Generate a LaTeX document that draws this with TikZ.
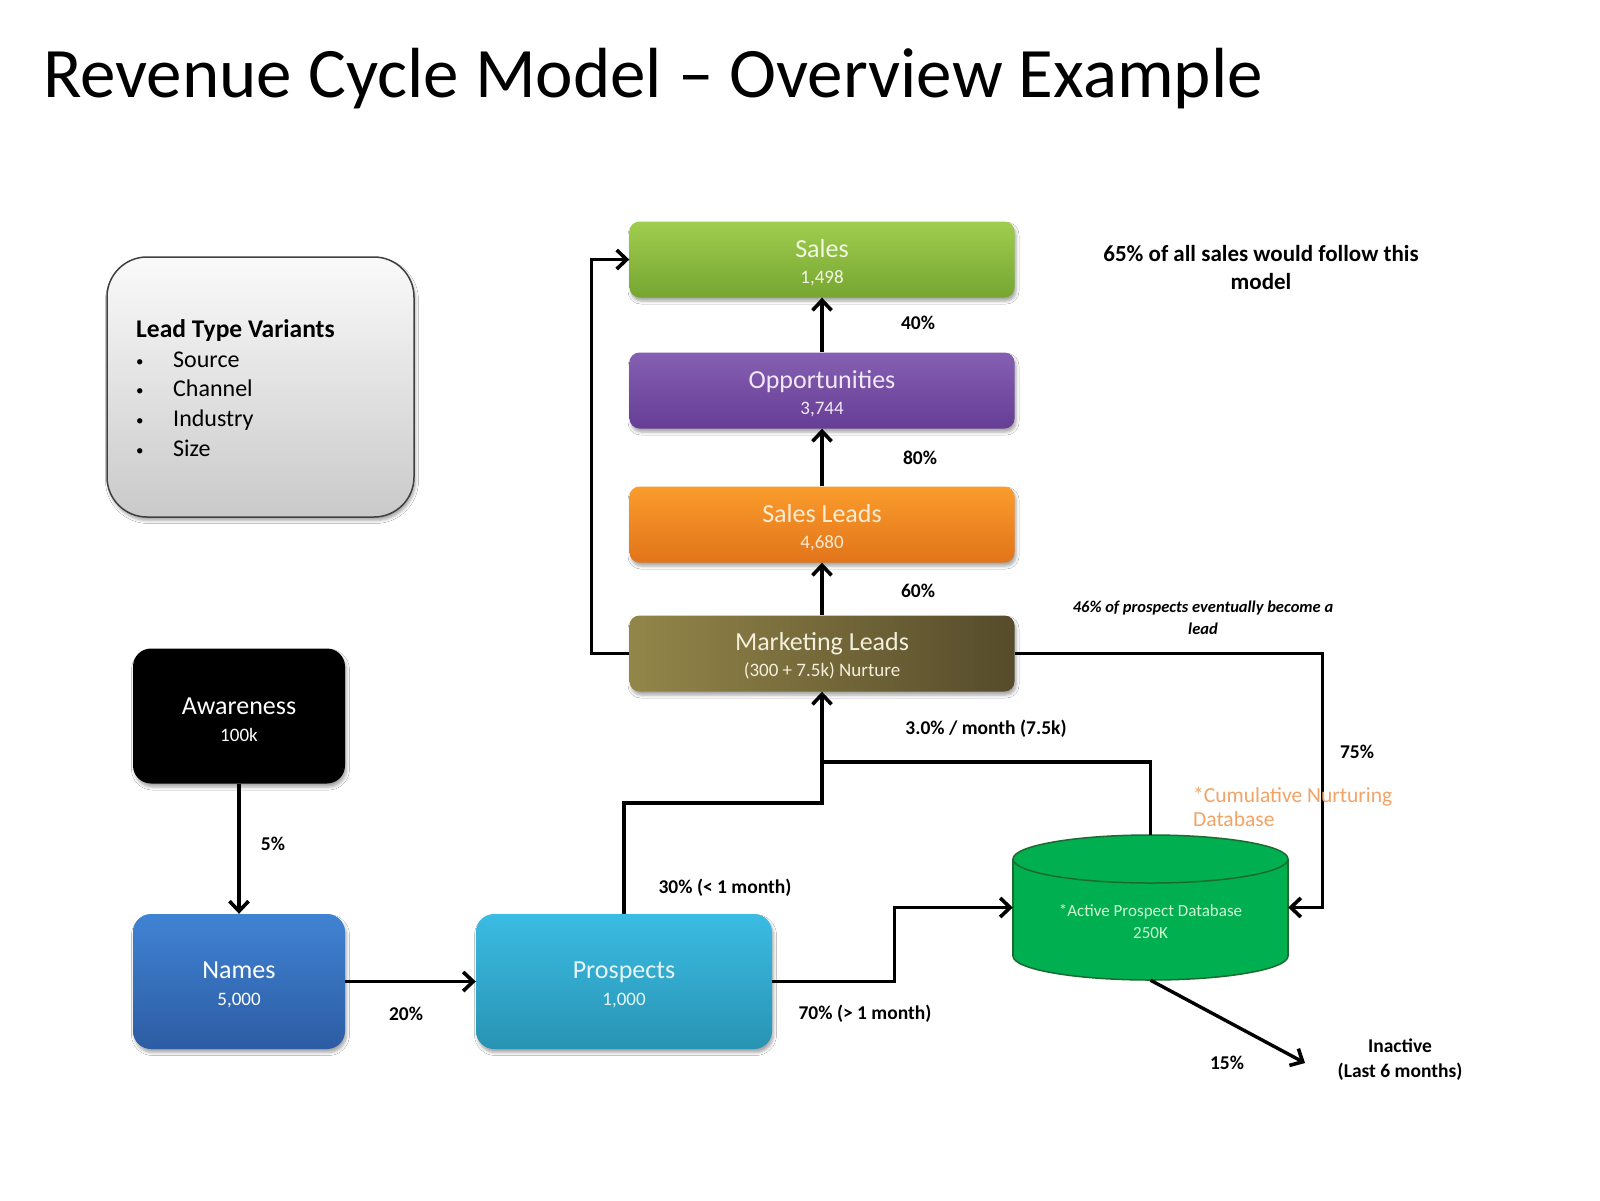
\documentclass[tikz,border=0pt]{standalone}
\usepackage{fontspec}
\setmainfont{Carlito}
\usetikzlibrary{arrows.meta,shadows.blur}

\definecolor{salesA}{HTML}{A0CD4E}
\definecolor{salesB}{HTML}{76A632}
\definecolor{salesT}{HTML}{F2F8E4}
\definecolor{oppA}{HTML}{8560B2}
\definecolor{oppB}{HTML}{663D95}
\definecolor{oppT}{HTML}{F1E9F8}
\definecolor{slA}{HTML}{FA9C2C}
\definecolor{slB}{HTML}{E2741A}
\definecolor{slT}{HTML}{FDEBD2}
\definecolor{mlA}{HTML}{938649}
\definecolor{mlB}{HTML}{564B2B}
\definecolor{mlT}{HTML}{F3EFDC}
\definecolor{namesA}{HTML}{4083D3}
\definecolor{namesB}{HTML}{2C5CA3}
\definecolor{prosA}{HTML}{3BBCE3}
\definecolor{prosB}{HTML}{2893B3}
\definecolor{prosT}{HTML}{E6F6FB}
\definecolor{dbfill}{HTML}{00B050}
\definecolor{dbline}{HTML}{1B6B31}
\definecolor{dbtext}{HTML}{CFF7D2}
\definecolor{nurture}{HTML}{F2A366}

% first line of a stage box: larger type, with a strut that nudges the block down a little
\newcommand\stagetitle[1]{{\fontsize{26}{26}\selectfont\rule{0pt}{23.5pt}#1}}
\newcommand\bul{\makebox[37pt][l]{\raisebox{1pt}{\fontsize{15}{15}\selectfont •}}}

\begin{document}
\begin{tikzpicture}[x=1pt,y=-1pt,
  conn/.style={line width=3.4pt},
  arr/.style={conn,-{Straight Barb[length=10pt,width=19pt,line width=3.6pt]}},
  shade/.style={blur shadow={shadow xshift=1.5pt,shadow yshift=-3.5pt,shadow blur radius=3pt,shadow opacity=35}},
  stage/.style={shade,rectangle,rounded corners=10pt,minimum width=385pt,minimum height=76pt,
    inner sep=0pt,align=center,font=\fontsize{19}{26}\selectfont},
  block/.style={shade,rectangle,rounded corners=18pt,minimum width=212pt,minimum height=135pt,
    inner sep=0pt,align=center,font=\fontsize{19}{27}\selectfont},
  lbl/.style={font=\bfseries\fontsize{19.5}{25}\selectfont,align=center,inner sep=0pt},
  dbwall/.style={draw=dbline,line width=1.5pt}
]
\useasboundingbox[fill=white] (0,0) rectangle (1600,1200);

% heading
\node[anchor=base west,inner sep=0pt,font=\fontsize{71}{80}\selectfont] (title) at (43,97)
  {Revenue Cycle Model – Overview Example};

% lead type legend
\node[shade,rectangle,rounded corners=40pt,minimum width=307pt,minimum height=260pt,
  top color=gray!4,bottom color=gray!42,draw=black!75,line width=1.5pt] (leadbox) at (260.5,387) {};
\node[anchor=west,align=left,inner sep=0pt,font=\fontsize{24}{29.7}\selectfont] (leadtext) at (136,388)
  {{\bfseries\fontsize{25.5}{29.7}\selectfont Lead Type Variants}\\\bul Source\\\bul Channel\\\bul Industry\\\bul Size};

% funnel stages
\node[stage,top color=salesA,bottom color=salesB,text=salesT] (sales) at (822,259.5) {\stagetitle{Sales}\\1,498};
\node[stage,top color=oppA,bottom color=oppB,text=oppT] (opp) at (822,390.5) {\stagetitle{Opportunities}\\3,744};
\node[stage,top color=slA,bottom color=slB,text=slT] (sleads) at (822,524.5) {\stagetitle{Sales Leads}\\4,680};
\node[stage,left color=mlA,right color=mlB,text=mlT] (mleads) at (822,653.5) {\stagetitle{Marketing Leads}\\(300 + 7.5k) Nurture};

\node[block,fill=black,text=white] (aware) at (239,716) {\stagetitle{Awareness}\\100k};
\node[block,top color=namesA,bottom color=namesB,text=white] (names) at (239,981.5) {\stagetitle{Names}\\5,000};
\node[block,minimum width=296pt,top color=prosA,bottom color=prosB,text=prosT] (pros) at (624,981.5) {\stagetitle{Prospects}\\1,000};

% prospect database cylinder
\node[rectangle,minimum width=275pt,minimum height=145pt,inner sep=0pt] (db) at (1150.5,907.5) {};
\filldraw[fill=dbfill,dbwall] (1150.5,956) ellipse [x radius=137.5,y radius=24];
\fill[dbfill] (1013,859) rectangle (1288,956);
\draw[dbwall] (1013,859) -- (1013,956) (1288,859) -- (1288,956);
\filldraw[fill=dbfill,dbwall] (1150.5,859) ellipse [x radius=137.5,y radius=24];
\node[align=center,inner sep=0pt,text=dbtext,font=\fontsize{17}{22}\selectfont] (dbtext) at (1150.5,922)
  {*Active Prospect Database\\250K};

% connectors
\coordinate (join) at (822,762);
\coordinate (inactend) at (1305,1063);
\draw[arr] (mleads.north) -- (sleads.south);
\draw[arr] (sleads.north) -- (opp.south);
\draw[arr] (opp.north) -- (sales.south);
\draw[arr] (mleads.west) -- ++(-38,0) |- (sales.west);
\draw[arr] (aware.south) -- (names.north);
\draw[arr] (names.east) -- (pros.west);
\draw[arr] (pros.north) -- ++(0,-111) -| (mleads.south);
\draw[conn] (db.north) |- (join);
\draw[arr] (pros.east) -- ++(122,0) |- (db.west);
\draw[arr] (mleads.east) -- ++(308,0) |- (db.east);
\draw[arr] (db.south) -- (inactend);

% rates and notes
\node[lbl] (p40) at (918,323) {40\%};
\node[lbl] (p80) at (920,458) {80\%};
\node[lbl] (p60) at (918,591) {60\%};
\node[lbl] (p5) at (273,844) {5\%};
\node[lbl] (p20) at (406,1014) {20\%};
\node[lbl] (p30) at (725,888) {30\% (< 1 month)};
\node[lbl] (p3) at (986,729) {3.0\% / month (7.5k)};
\node[lbl] (p70) at (865,1014) {70\% (> 1 month)};
\node[lbl] (p75) at (1357,752) {75\%};
\node[lbl] (p15) at (1227,1063) {15\%};
\node[lbl] (inactive) at (1400,1060) {Inactive\\(Last 6 months)};
\node[align=center,inner sep=0pt,font=\bfseries\itshape\fontsize{16.5}{21.5}\selectfont] (note46) at (1203,618)
  {46\% of prospects eventually become a\\lead};
\node[align=center,inner sep=0pt,font=\bfseries\fontsize{23}{28}\selectfont] (note65) at (1261,268)
  {65\% of all sales would follow this\\model};
\node[anchor=west,align=left,inner sep=0pt,text=nurture,font=\fontsize{21.5}{24.5}\selectfont] (nurt) at (1193,807)
  {*Cumulative Nurturing\\Database};
\end{tikzpicture}
\end{document}
